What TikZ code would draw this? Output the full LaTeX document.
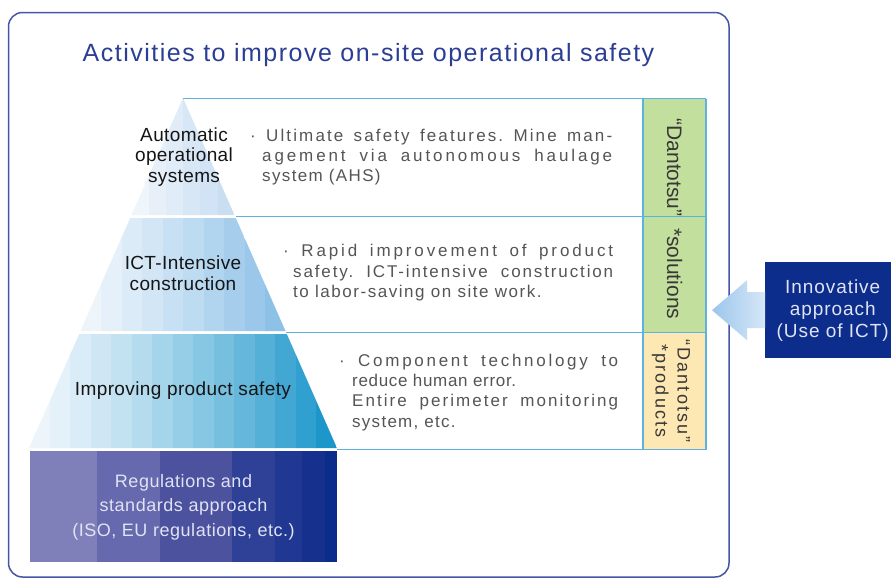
\documentclass[tikz,border=0pt]{standalone}
\usepackage{fontspec}
\setmainfont{Liberation Sans}
\newfontfamily\titlefont[LetterSpace=6]{Liberation Sans}
\newfontfamily\descfont{Liberation Sans}
\newfontfamily\labfont[LetterSpace=2]{Liberation Sans}
\newfontfamily\basefont[LetterSpace=3]{Liberation Sans}
\newfontfamily\prodfont[LetterSpace=12]{Liberation Sans}
\newfontfamily\ictfont[LetterSpace=5]{Liberation Sans}
\newcommand\lsp[1]{\addfontfeature{LetterSpace=#1}}
\usetikzlibrary{calc}
\definecolor{outerc}{HTML}{4656A6}
\definecolor{titlec}{HTML}{2C3E94}
\definecolor{lineblue}{HTML}{5CB3E0}
\definecolor{greenbox}{HTML}{C3DF9E}
\definecolor{orangebox}{HTML}{FDE7B3}
\definecolor{navy}{HTML}{0C2D8B}
\definecolor{descc}{HTML}{555555}
\definecolor{labc}{HTML}{151515}
\definecolor{basec}{HTML}{E0E3F3}
\definecolor{tAL}{HTML}{F2F7FC}
\definecolor{tAR}{HTML}{C6DCF1}
\definecolor{tBL}{HTML}{F0F6FC}
\definecolor{tBR}{HTML}{88BEE6}
\definecolor{tCL}{HTML}{F0F6FC}
\definecolor{tCR}{HTML}{1393C8}
\tikzset{
  ln/.style={draw=lineblue, line width=1.3pt},
  desc/.style={font=\descfont\fontsize{17}{20}\selectfont, text=descc, anchor=west, inner sep=0pt, text height=12pt, text depth=3pt},
  lab/.style={font=\labfont\fontsize{19}{20.5}\selectfont, text=labc, align=center, inner sep=0pt},
}
\frenchspacing
\begin{document}
\frenchspacing
\begin{tikzpicture}[x=1pt,y=-1pt]
\useasboundingbox (0,0) rectangle (891,579);
\fill[white] (0,0) rectangle (891,579);
% outer frame
\draw[outerc, line width=1.5pt, rounded corners=14pt] (8.5,12.5) rectangle (729,577);
\node[font=\titlefont\fontsize{25}{28}\selectfont, text=titlec, inner sep=0pt] (title) at (368.5,55) {Activities to improve on-site operational safety};
% tier 1
\begin{scope}
\clip (183,98) -- (234.5,215) -- (131.5,215) -- cycle;
\foreach \i in {0,...,5}{
  \pgfmathsetmacro\p{100*(\i+0.5)/6}
  \fill[tAR!\p!tAL] (131.5+\i*17.2,97) rectangle ++(17.8,119);
}
\end{scope}
% tier 2
\begin{scope}
\clip (130.2,218) -- (235.8,218) -- (285.5,331) -- (80.5,331) -- cycle;
\foreach \i in {0,...,9}{
  \pgfmathsetmacro\p{100*((\i+0.5)/10)^1.2}
  \fill[tBR!\p!tBL] (80.5+\i*20.5,217) rectangle ++(21,115);
}
\end{scope}
% tier 3
\begin{scope}
\clip (79.2,334) -- (286.8,334) -- (337,448) -- (29,448) -- cycle;
\foreach \i in {0,...,14}{
  \pgfmathsetmacro\p{100*((\i+0.5)/15)^1.3}
  \fill[tCR!\p!tCL] (29+\i*20.53,333) rectangle ++(21,116);
}
\end{scope}
% base
\fill[fill={rgb,255:red,127;green,128;blue,185}] (30,451) rectangle (97,562);
\fill[fill={rgb,255:red,102;green,105;blue,173}] (97,451) rectangle (160,562);
\fill[fill={rgb,255:red,77;green,82;blue,159}] (160,451) rectangle (232,562);
\fill[fill={rgb,255:red,47;green,65;blue,150}] (232,451) rectangle (275,562);
\fill[fill={rgb,255:red,32;green,56;blue,146}] (275,451) rectangle (302,562);
\fill[fill={rgb,255:red,21;green,48;blue,141}] (302,451) rectangle (325,562);
\fill[fill={rgb,255:red,10;green,44;blue,139}] (325,451) rectangle (337,562);
% side boxes
\fill[greenbox] (643,99) rectangle (706,333);
\fill[orangebox] (643,333) rectangle (706,449);
% lines
\draw[ln] (183,98.5) -- (706,98.5);
\draw[ln] (236,216.5) -- (706,216.5);
\draw[ln] (286,332.5) -- (706,332.5);
\draw[ln] (337,449.5) -- (706,449.5);
\draw[ln] (643,98.5) -- (643,449.5);
\draw[ln] (706,98.5) -- (706,449.5);
% pyramid labels
\node[lab] (l1) at (184,157) {Automatic\\operational\\systems};
\node[lab] (l2) at (183,273) {ICT-Intensive\\construction};
\node[lab] (l3) at (183,391) {Improving product safety};
\node[font=\basefont\fontsize{18}{24.5}\selectfont, text=basec, align=center, inner sep=0pt] (l4) at (183.5,507) {Regulations and\\standards approach\\(ISO, EU regulations, etc.)};
% descriptions
\node[desc] (d1a) at (250,137) {\lsp{12.5}\makebox[362pt][s]{·\ Ultimate safety features. Mine man-}};
\node[desc] (d1b) at (262,157) {\lsp{17}\makebox[350pt][s]{agement via autonomous haulage}};
\node[desc] (d1c) at (262,177) {\lsp{8}system (AHS)};
\node[desc] (d2a) at (283,252) {\lsp{17}\makebox[330pt][s]{·\ Rapid improvement of product}};
\node[desc] (d2b) at (293,273) {\lsp{11}\makebox[320pt][s]{safety. ICT-intensive construction}};
\node[desc] (d2c) at (293,293) {\lsp{9}to labor-saving on site work.};
\node[desc] (d3a) at (339,362) {\lsp{16}\makebox[279pt][s]{·\ Component technology to}};
\node[desc] (d3b) at (352,382) {\lsp{4}reduce human error.};
\node[desc] (d3c) at (352,402) {\lsp{12}\makebox[266pt][s]{Entire perimeter monitoring}};
\node[desc] (d3d) at (352,423) {\lsp{7.5}system, etc.};
% side box texts
\node[rotate=-90, font=\fontsize{21}{24}\selectfont, text=labc!85, inner sep=0pt] (sol) at (674.5,219) {“Dantotsu”\ \ *solutions};
\node[rotate=-90, font=\prodfont\fontsize{18}{22}\selectfont, text=labc!85, align=center, inner sep=0pt] (prod) at (671,391) {“Dantotsu”\\*products};
% innovative approach box
\node[fill=navy, minimum width=135pt, minimum height=96pt, anchor=north west, inner sep=0pt, font=\ictfont\fontsize{19}{22}\selectfont, text=basec, align=center] (ict) at (765,262) {Innovative\\approach\\(Use of ICT)};
% arrow
\shade[left color={rgb,255:red,156;green,198;blue,236}, right color={rgb,255:red,214;green,231;blue,247}]
  ($(ict.west)+(-53,0)$) -- ($(ict.west)+(-18,-30)$) -- ($(ict.west)+(-18,-18)$) -- ($(ict.west)+(0,-18)$)
  -- ($(ict.west)+(0,18)$) -- ($(ict.west)+(-18,18)$) -- ($(ict.west)+(-18,30)$) -- cycle;
\end{tikzpicture}
\end{document}
